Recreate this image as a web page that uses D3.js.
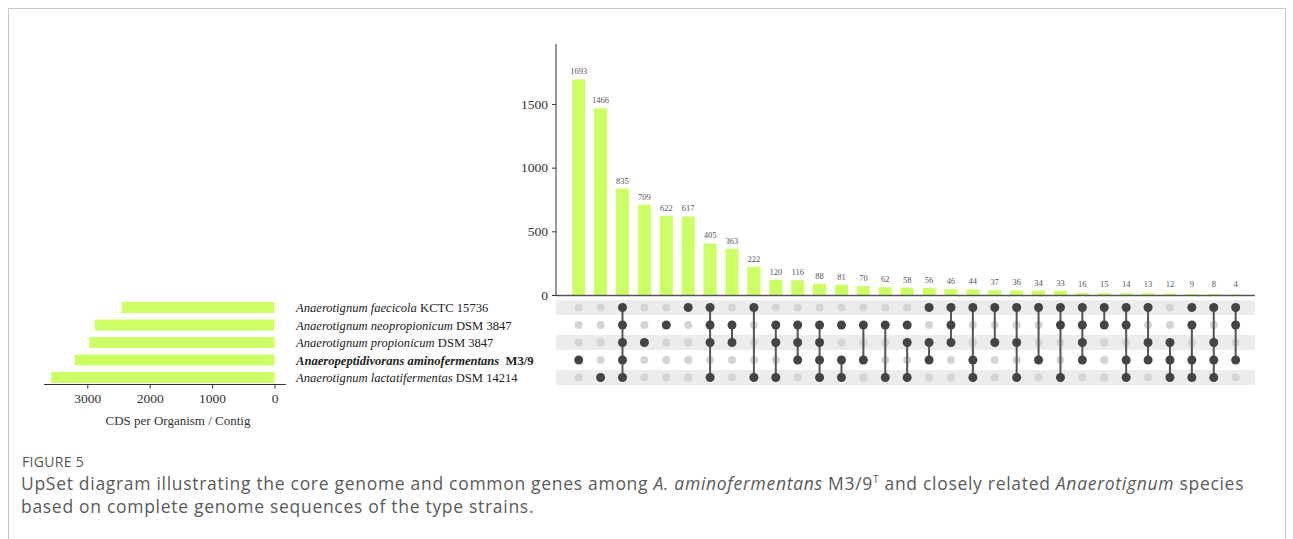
<!DOCTYPE html>
<html>
<head>
<meta charset="utf-8">
<script src="https://cdn.jsdelivr.net/npm/d3@7"></script>
<style>
  html, body { margin: 0; padding: 0; background: #fff; }
  svg { display: block; }
</style>
</head>
<body>
<svg id="chart" width="1293" height="539"></svg>
<script>
// ---------------- DATA ----------------
const setNames = ["Anaerotignum faecicola", "Anaerotignum neopropionicum", "Anaerotignum propionicum",
                  "Anaeropeptidivorans aminofermentans", "Anaerotignum lactatifermentas"];
const setStrains = ["KCTC 15736", "DSM 3847", "DSM 3847", "M3/9", "DSM 14214"];
const setBold = [false, false, false, true, false];
const setSizes = [2450, 2880, 2970, 3200, 3580];

const intersectionSizes = [1693, 1466, 835, 709, 622, 617, 405, 363, 222, 120, 116, 88, 81, 70, 62,
                           58, 56, 46, 44, 37, 36, 34, 33, 16, 15, 14, 13, 12, 9, 8, 4];
const intersectionMembers = [[3], [4], [0,1,2,3,4], [2], [1], [0], [0,1,2,4], [1,2], [0,4], [1,2,4],
                             [1,2,3], [1,2,3,4], [3,4], [1,3], [1,4], [2,4], [2,3], [0,1,2], [0,3,4], [0,2],
                             [0,2,4], [0,3], [0,1,4], [0,1,2,3], [0,1], [0,1,3,4], [0,2,3], [2,3,4], [1,3,4],
                             [0,2,3,4], [0,1,3]];
// dark dots visible in the figure that are not joined to their column's line: [column, row]
const extraDots = [[12, 1], [15, 1], [16, 0], [28, 0]];

const yTicks = [0, 500, 1000, 1500];
const setTicks = [3000, 2000, 1000, 0];
const setAxisTitle = "CDS per Organism / Contig";
const figLabel = "FIGURE 5";

// ---------------- LAYOUT ----------------
const svg = d3.select("#chart");
const serif = "'Liberation Serif', 'Times New Roman', serif";
const sans = "'Open Sans', 'Noto Sans', sans-serif";
const barColor = "#ccff66";
const dark = "#444444";
const light = "#d4d4d4";
const fmt = d3.format("d");

// frame
svg.append("path")
  .attr("d", "M8.5,539 V8.5 H1285.5 V539")
  .attr("fill", "none").attr("stroke", "#c8c8c8").attr("stroke-width", 1);

const cols = d3.range(intersectionSizes.length);
const x = d3.scaleBand().domain(cols).range([567.75, 1246.6]).paddingInner(0.4).paddingOuter(0.2);
const y = d3.scaleLinear().domain([0, 1971]).range([295, 44]);
const rows = d3.range(setNames.length);
const r = d3.scaleBand().domain(rows).range([298.75, 386.25]);
const rc = i => r(i) + r.bandwidth() / 2;

// ---- intersection bars ----
svg.append("g").selectAll("rect").data(intersectionSizes).join("rect")
  .attr("x", (d, i) => x(i)).attr("width", x.bandwidth())
  .attr("y", d => y(d)).attr("height", d => y(0) - y(d))
  .attr("fill", barColor);

svg.append("g").selectAll("text").data(intersectionSizes).join("text")
  .attr("x", (d, i) => x(i) + x.bandwidth() / 2)
  .attr("y", d => Math.min(y(d) - 5, 287))
  .attr("text-anchor", "middle")
  .attr("font-family", serif).attr("font-size", 8.5).attr("fill", "#555")
  .text(d => d);

// y axis
const yAxis = d3.axisLeft(y).tickValues(yTicks).tickFormat(fmt).tickSize(4).tickPadding(4);
const gy = svg.append("g").attr("transform", "translate(556,0)").call(yAxis);
gy.select(".domain").attr("d", `M0,${y.range()[1]}V${y(0)}`).attr("stroke", "#333");
gy.selectAll(".tick line").attr("stroke", "#333");
gy.selectAll(".tick text").attr("font-family", serif).attr("font-size", 13.5).attr("fill", "#333");

// x baseline
svg.append("line").attr("x1", 556).attr("x2", 1255).attr("y1", y(0) + 0.5).attr("y2", y(0) + 0.5)
  .attr("stroke", "#555").attr("stroke-width", 1.5);

// ---- matrix ----
svg.append("g").selectAll("rect").data(rows.filter(i => i % 2 === 0)).join("rect")
  .attr("x", 556).attr("width", 699)
  .attr("y", i => rc(i) - 7.5).attr("height", 15)
  .attr("fill", "#ececec");

const cells = [];
cols.forEach(c => rows.forEach(rw => {
  const on = intersectionMembers[c].includes(rw) || extraDots.some(e => e[0] === c && e[1] === rw);
  cells.push({c, rw, on});
}));
svg.append("g").selectAll("circle.bg").data(cells.filter(d => !d.on)).join("circle")
  .attr("cx", d => x(d.c) + x.bandwidth() / 2).attr("cy", d => rc(d.rw))
  .attr("r", 4).attr("fill", light);

svg.append("g").selectAll("line").data(intersectionMembers.map((m, c) => ({c, m})).filter(d => d.m.length > 1)).join("line")
  .attr("x1", d => x(d.c) + x.bandwidth() / 2).attr("x2", d => x(d.c) + x.bandwidth() / 2)
  .attr("y1", d => rc(d3.min(d.m))).attr("y2", d => rc(d3.max(d.m)))
  .attr("stroke", "#555").attr("stroke-width", 2);

svg.append("g").selectAll("circle.fg").data(cells.filter(d => d.on)).join("circle")
  .attr("cx", d => x(d.c) + x.bandwidth() / 2).attr("cy", d => rc(d.rw))
  .attr("r", 4.5).attr("fill", dark);

// ---- set size bars ----
const sx = d3.scaleLinear().domain([0, 3700]).range([274.5, 43.6]);
svg.append("g").selectAll("rect").data(setSizes).join("rect")
  .attr("x", d => sx(d)).attr("width", d => sx(0) - sx(d))
  .attr("y", (d, i) => rc(i) - 5.5).attr("height", 11)
  .attr("fill", barColor);

const sxAxis = d3.axisBottom(sx).tickValues(setTicks).tickFormat(fmt).tickSize(4).tickPadding(5);
const gx = svg.append("g").attr("transform", "translate(0,384.5)").call(sxAxis);
gx.select(".domain").attr("d", "M44,0H286").attr("stroke", "#333");
gx.selectAll(".tick line").attr("stroke", "#333");
gx.selectAll(".tick text").attr("font-family", serif).attr("font-size", 13.5).attr("fill", "#333");

svg.append("text").attr("x", 178).attr("y", 425).attr("text-anchor", "middle")
  .attr("font-family", serif).attr("font-size", 13).attr("fill", "#333").text(setAxisTitle);

// set labels
const lab = svg.append("g").selectAll("text").data(rows).join("text")
  .attr("x", 296).attr("y", i => rc(i) + 4.5)
  .attr("font-family", serif).attr("font-size", 12.6).attr("fill", "#222")
  .attr("font-weight", i => setBold[i] ? "bold" : "normal");
lab.append("tspan").attr("font-style", "italic").text(i => setNames[i]);
lab.append("tspan").text(i => (setBold[i] ? "\u00a0\u00a0" : " ") + setStrains[i]);

// ---- caption ----
svg.append("text").attr("x", 22).attr("y", 467)
  .attr("font-family", sans).attr("font-size", 14).attr("letter-spacing", 0.3).attr("fill", "#555")
  .text(figLabel);

const cap1 = svg.append("text").attr("x", 21).attr("y", 490)
  .attr("font-family", sans).attr("font-size", 17.5).attr("letter-spacing", 0.7).attr("fill", "#5a5a5a");
cap1.append("tspan").text("UpSet diagram illustrating the core genome and common genes among ");
cap1.append("tspan").attr("font-style", "italic").text("A. aminofermentans");
cap1.append("tspan").text(" M3/9");
cap1.append("tspan").attr("font-size", 10).attr("dy", -7).text("T");
cap1.append("tspan").attr("dy", 7).text(" and closely related ");
cap1.append("tspan").attr("font-style", "italic").text("Anaerotignum");
cap1.append("tspan").text(" species");

svg.append("text").attr("x", 21).attr("y", 513)
  .attr("font-family", sans).attr("font-size", 17.5).attr("letter-spacing", 0.7).attr("fill", "#5a5a5a")
  .text("based on complete genome sequences of the type strains.");
</script>
</body>
</html>
